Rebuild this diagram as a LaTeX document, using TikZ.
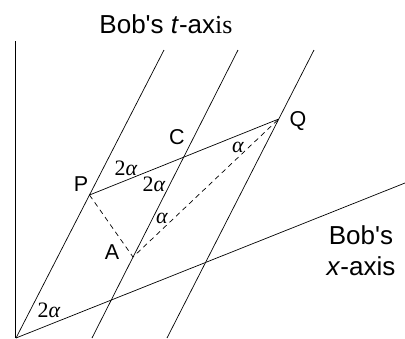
\documentclass[tikz,border=0pt]{standalone}
\usepackage{fontspec}
\setmainfont{Liberation Sans}
\newfontfamily\angfont{Liberation Serif}
\usetikzlibrary{calc}

\begin{document}
\begin{tikzpicture}[
    x=1pt, y=-1pt,
    line/.style={line width=0.7pt},
    guide/.style={line width=0.7pt, dash pattern=on 5pt off 4pt},
    pt/.style={inner sep=0pt, font=\fontsize{21.5}{26}\selectfont},
    axislbl/.style={inner sep=0pt, align=center, font=\fontsize{26}{31}\selectfont},
    ang/.style={inner sep=0pt, font=\angfont\fontsize{22}{26}\selectfont}
]
    \useasboundingbox (0,0) rectangle (405,338);
    % worldlines and axes
    \coordinate (vb) at (15,338);
    \coordinate (vt) at (15,41);
    \coordinate (O) at (16,338);
    \coordinate (t1) at (164,50);
    \coordinate (b2) at (92,338);
    \coordinate (t2) at (238,50);
    \coordinate (b3) at (167,338);
    \coordinate (t3) at (314,50);
    \coordinate (xe) at (405,183);
    \coordinate (P) at (89.5,195);
    \coordinate (Q) at (278.7,119);
    \coordinate (A) at (133,257);
    \coordinate (C) at (intersection of P--Q and b2--t2);
    \draw[line] (vb) -- (vt);
    \draw[line] (O) -- (t1);
    \draw[line] (b2) -- (t2);
    \draw[line] (b3) -- (t3);
    \draw[line] (O) -- (xe);
    \draw[line] (P) -- (Q);
    \draw[guide] (P) -- (A) -- (Q);
    % labels
    \node[axislbl] (tax) at (166,24) {Bob\textquotesingle s \textit{t}-ax{\angfont is}};
    \node[axislbl] (xax) at (361,251) {Bob\textquotesingle s\\\textit{x}-axis};
    \node[pt] (lP) at (81,184) {P};
    \node[pt] (lQ) at (298,121) {Q};
    \node[pt] (lC) at (177,137) {C};
    \node[pt] (lA) at (112,252) {A};
    \node[ang] (a1) at (126,168) {2\textit{α}};
    \node[ang] (a2) at (154,184) {2\textit{α}};
    \node[ang] (a3) at (162,218) {\textit{α}};
    \node[ang] (a4) at (238,147) {\textit{α}};
    \node[ang] (a5) at (49,310) {2\textit{α}};
\end{tikzpicture}
\end{document}
